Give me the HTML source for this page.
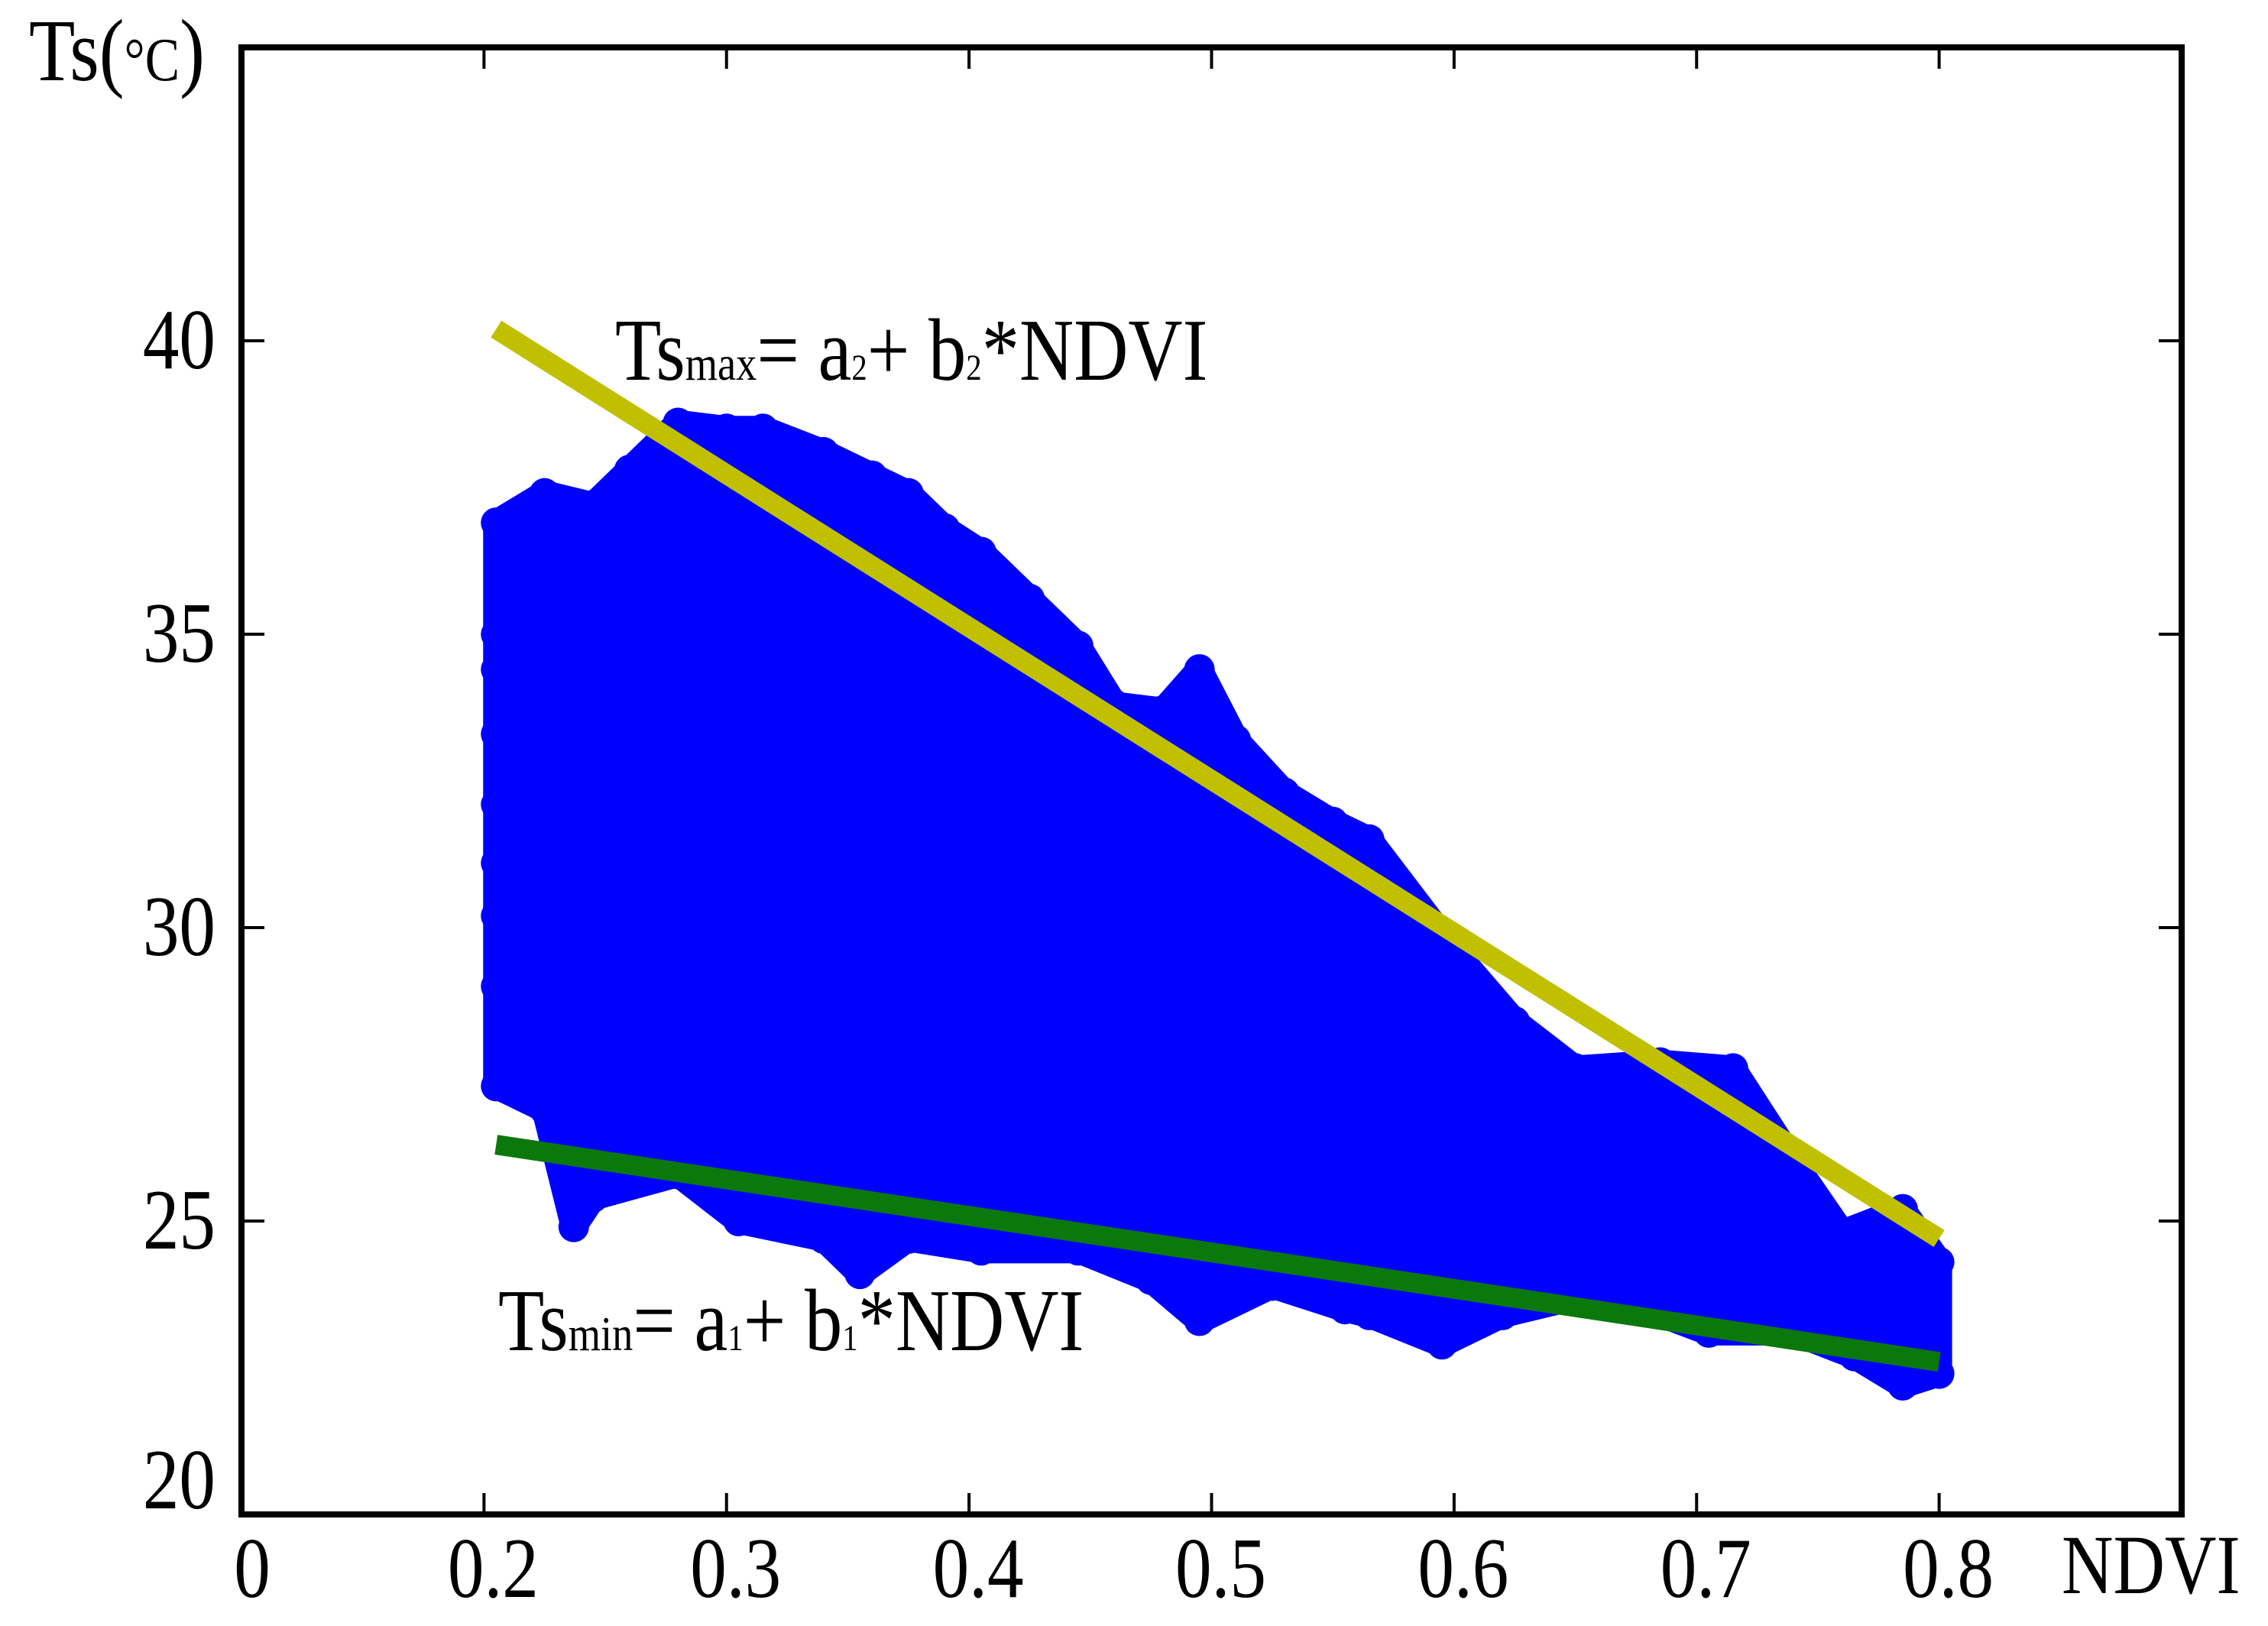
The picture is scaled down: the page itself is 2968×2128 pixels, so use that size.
<!DOCTYPE html>
<html><head><meta charset="utf-8"><style>
html,body{margin:0;padding:0;background:#fff;}
svg{display:block;font-family:"Liberation Serif",serif;}
</style></head><body>
<svg id="chart" width="2968" height="2128" viewBox="0 0 2968 2128" xmlns="http://www.w3.org/2000/svg">
<rect width="2968" height="2128" fill="#fff"/>
<g id="cloud"></g>
<g id="lines"></g>
<g id="axes"></g>
<text transform="translate(38,105) scale(0.85,1)" font-size="116">Ts(<tspan font-size="80">°C</tspan>)</text>
<text transform="translate(2698,2085) scale(0.85,1)" font-size="110">NDVI</text>
<text transform="translate(805,497) scale(0.85,1)" font-size="116">Ts<tspan font-size="64">max</tspan>= a<tspan font-size="48">2</tspan>+ b<tspan font-size="48">2</tspan>*NDVI</text>
<text transform="translate(652,1767) scale(0.85,1)" font-size="116">Ts<tspan font-size="64">min</tspan>= a<tspan font-size="48">1</tspan>+ b<tspan font-size="48">1</tspan>*NDVI</text>
</svg>
<script>
const xTicks = [0.1,0.2,0.3,0.4,0.5,0.6,0.7,0.8];
const xTickLabels = ["0","0.2","0.3","0.4","0.5","0.6","0.7","0.8"];
const yTicks = [20,25,30,35,40];
const yTickLabels = ["20","25","30","35","40"];
const cloudNdvi = [0.205,0.225,0.245,0.26,0.28,0.3,0.315,0.34,0.36,0.375,0.39,0.405,0.425,0.445,0.46,0.48,0.495,0.51,0.53,0.55,0.565,0.6,0.625,0.65,0.685,0.715,0.74,0.76,0.785,0.8,
 0.8,0.785,0.765,0.74,0.705,0.66,0.62,0.595,0.565,0.555,0.525,0.495,0.475,0.445,0.405,0.375,0.355,0.34,0.305,0.28,0.245,0.237,0.225,0.205,
 0.205,0.205,0.205,0.205,0.205,0.205,0.205];
const cloudTs = [36.9,37.4,37.2,37.8,38.6,38.5,38.5,38.1,37.7,37.4,36.8,36.4,35.6,34.8,33.8,33.7,34.4,33.2,32.3,31.8,31.5,29.6,28.4,27.6,27.7,27.6,26.0,24.8,25.2,24.3,
 22.4,22.2,22.7,23.1,23.1,23.8,23.4,22.9,23.4,23.5,23.9,23.3,24.0,24.5,24.5,24.7,24.1,24.7,25.0,25.8,25.4,24.9,26.9,27.3,
 29.0,30.2,31.1,32.1,33.3,34.4,35.0];
const maxLineNdvi = [0.205,0.8];
const maxLineTs = [40.2,24.7];
const minLineNdvi = [0.205,0.8];
const minLineTs = [26.3,22.6];

const L=316,R=2855,T=62,B=1982;
const xs = v => L + (v-0.1)/0.8*(R-L);
const ys = v => B - (v-20)/25*(B-T);
const NS="http://www.w3.org/2000/svg";
function mk(tag, parent){const e=document.createElementNS(NS,tag);parent.appendChild(e);return e;}

const cloud=document.getElementById('cloud');
const poly=mk('polygon',cloud);


poly.setAttribute('points',cloudNdvi.map((v,i)=>xs(v)+','+ys(cloudTs[i])).join(' '));
poly.setAttribute('fill','#0000ff');
poly.setAttribute('stroke','#0000ff');
poly.setAttribute('stroke-width','34');
poly.setAttribute('stroke-linejoin','round');
cloudNdvi.forEach((v,i)=>{
  const c=mk('circle',cloud);
  
  
  c.setAttribute('cx',xs(v));c.setAttribute('cy',ys(cloudTs[i]));c.setAttribute('r',20);c.setAttribute('fill','#0000ff');
});

const lines=document.getElementById('lines');
const l1=mk('line',lines);


l1.setAttribute('x1',xs(maxLineNdvi[0]));l1.setAttribute('y1',ys(maxLineTs[0]));
l1.setAttribute('x2',xs(maxLineNdvi[1]));l1.setAttribute('y2',ys(maxLineTs[1]));
l1.setAttribute('stroke','#c0c000');l1.setAttribute('stroke-width','26');
const l2=mk('line',lines);


l2.setAttribute('x1',xs(minLineNdvi[0]));l2.setAttribute('y1',ys(minLineTs[0]));
l2.setAttribute('x2',xs(minLineNdvi[1]));l2.setAttribute('y2',ys(minLineTs[1]));
l2.setAttribute('stroke','#0b780b');l2.setAttribute('stroke-width','26');

const axes=document.getElementById('axes');
const frame=mk('rect',axes);


frame.setAttribute('x',L);frame.setAttribute('y',T);frame.setAttribute('width',R-L);frame.setAttribute('height',B-T);
frame.setAttribute('fill','none');frame.setAttribute('stroke','#000');frame.setAttribute('stroke-width','8');
xTicks.forEach((v,i)=>{
  const x=xs(v);
  if(i>0){
    [[B,B-28],[T,T+28]].forEach(p=>{
      const t=mk('line',axes);
      
      
      t.setAttribute('x1',x);t.setAttribute('x2',x);t.setAttribute('y1',p[0]);t.setAttribute('y2',p[1]);
      t.setAttribute('stroke','#000');t.setAttribute('stroke-width','4');
    });
  }
  const tx=mk('text',axes);
  
  
  tx.setAttribute('transform','translate('+(i===0 ? x+14 : x+12)+',2090) scale(0.85,1)');
  tx.setAttribute('font-size','112');tx.setAttribute('text-anchor','middle');
  tx.textContent=xTickLabels[i];
});
yTicks.forEach((v,i)=>{
  const y=ys(v);
  if(i>0){
    [[L,L+30],[R,R-30]].forEach(p=>{
      const t=mk('line',axes);
      
      
      t.setAttribute('x1',p[0]);t.setAttribute('x2',p[1]);t.setAttribute('y1',y);t.setAttribute('y2',y);
      t.setAttribute('stroke','#000');t.setAttribute('stroke-width','4');
    });
  }
  const tx=mk('text',axes);
  
  
  tx.setAttribute('transform','translate(282,'+(i===0 ? y-8 : y+36)+') scale(0.85,1)');
  tx.setAttribute('font-size','112');tx.setAttribute('text-anchor','end');
  tx.textContent=yTickLabels[i];
});
</script>
</body></html>
